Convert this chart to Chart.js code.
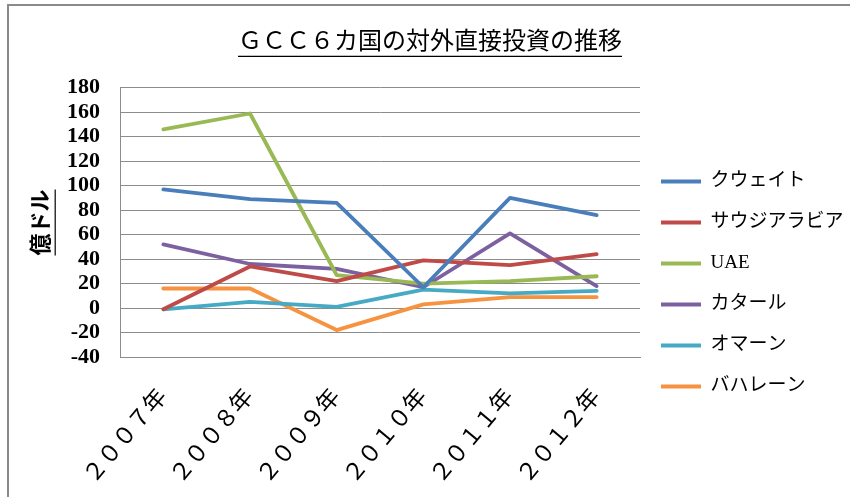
<!DOCTYPE html>
<html>
<head>
<meta charset="utf-8">
<script src="https://cdn.jsdelivr.net/npm/chart.js@4/dist/chart.umd.min.js"></script>
<style>
  html, body { margin: 0; padding: 0; background: #fff; }
  #wrap { position: relative; width: 850px; height: 497px; }
  #frame { position: absolute; left: 7px; top: 4px; right: 0; bottom: 0;
           border-top: 2px solid #8a8a8a; border-left: 2px solid #8a8a8a; pointer-events: none; }
</style>
</head>
<body>
<div id="wrap">
  <canvas id="gccChart"></canvas>
  <div id="frame"></div>
</div>
<script>
// 年次ラベル
const years = ['２００７年', '２００８年', '２００９年', '２０１０年', '２０１１年', '２０１２年'];

// 対外直接投資（億ドル）
const kuwait  = [97, 89, 86, 17, 90, 76];
const saudi   = [-1, 34, 22, 39, 35, 44];
const uae     = [146, 159, 27, 20, 22, 26];
const qatar   = [52, 36, 32, 17, 61, 18];
const oman    = [-1, 5, 1, 15, 12, 14];
const bahrain = [16, 16, -18, 3, 9, 9];

const yMin = -40, yMax = 180, yStep = 20;

const SERIF = "'Liberation Serif', 'Noto Sans CJK JP', serif";

function line(label, data, color) {
    return {
        label: label,
        data: data,
        borderColor: color,
        backgroundColor: color,
        borderWidth: 3.8,
        borderCapStyle: 'round',
        borderJoinStyle: 'round',
        pointRadius: 0,
        pointStyle: 'line',
        tension: 0
    };
}

// タイトルと軸タイトルに下線を引く / 凡例の位置合わせ
const underline = {
    id: 'underline',
    afterLayout(chart) {
        const lg = chart.legend;
        lg.left -= 1; lg.right -= 1;
        lg.top += 39; lg.bottom += 39;
    },
    afterDraw(chart) {
        const ctx = chart.ctx;
        ctx.save();
        ctx.strokeStyle = '#000';
        ctx.lineWidth = 1.2;

        const tb = chart.titleBlock;
        const tOpts = chart.options.plugins.title;
        ctx.font = tOpts.font.size + 'px ' + SERIF;
        const tw = ctx.measureText(tOpts.text).width;
        const cx = (tb.left + tb.right) / 2;
        const ty = tb.top + tOpts.padding.top + tOpts.font.size * 1.2 / 2 + tOpts.font.size / 2 + 2;
        ctx.beginPath();
        ctx.moveTo(cx - tw / 2, ty);
        ctx.lineTo(cx + tw / 2, ty);
        ctx.stroke();

        const ys = chart.scales.y;
        const yt = ys.options.title;
        ctx.font = 'bold ' + yt.font.size + 'px ' + SERIF;
        const yw = ctx.measureText(yt.text).width;
        const ux = ys.left + yt.padding.top + yt.font.size * 1.2 / 2 + yt.font.size / 2 + 2;
        const cy = (chart.chartArea.top + chart.chartArea.bottom) / 2;
        ctx.beginPath();
        ctx.moveTo(ux, cy - yw / 2);
        ctx.lineTo(ux, cy + yw / 2);
        ctx.stroke();
        ctx.restore();
    }
};

Chart.defaults.color = '#000';

new Chart(document.getElementById('gccChart').getContext('2d'), {
    type: 'line',
    data: {
        labels: years,
        datasets: [
            line('クウェイト', kuwait, '#4A7EBB'),
            line('サウジアラビア', saudi, '#BE4B48'),
            line('UAE', uae, '#98B954'),
            line('カタール', qatar, '#7D60A0'),
            line('オマーン', oman, '#46AAC5'),
            line('バハレーン', bahrain, '#F69240')
        ]
    },
    options: {
        responsive: true,
        maintainAspectRatio: false,
        animation: false,
        layout: { padding: { left: 10, right: 0, top: 0, bottom: 7 } },
        scales: {
            x: {
                offset: true,
                grid: { display: false, drawTicks: false },
                border: { display: true, color: '#8c8c8c' },
                ticks: {
                    minRotation: 50, maxRotation: 50,
                    padding: 27,
                    font: { family: SERIF, size: 23 }
                },
                afterFit(scale) {
                    scale.height = 133;
                    scale.paddingLeft = 0;
                    scale.paddingRight = 0;
                }
            },
            y: {
                min: yMin, max: yMax,
                grid: { color: '#8c8c8c', lineWidth: 1, drawTicks: false },
                border: { display: true, color: '#8c8c8c' },
                ticks: {
                    stepSize: yStep,
                    autoSkip: false,
                    padding: 20,
                    font: { family: SERIF, size: 22, weight: 'bold' }
                },
                title: {
                    display: true,
                    text: '億ドル',
                    padding: { top: 19, bottom: 12 },
                    font: { family: SERIF, size: 22, weight: 'bold' }
                },
                afterFit(scale) {
                    scale.width = 110;
                }
            }
        },
        plugins: {
            title: {
                display: true,
                text: 'ＧＣＣ６カ国の対外直接投資の推移',
                padding: { top: 28, bottom: 31 },
                font: { family: SERIF, size: 24, weight: 'normal' }
            },
            legend: {
                position: 'right',
                labels: {
                    usePointStyle: true,
                    pointStyleWidth: 40,
                    padding: 22,
                    font: { family: SERIF, size: 19 }
                }
            },
            tooltip: { enabled: false }
        }
    },
    plugins: [underline]
});
</script>
</body>
</html>
